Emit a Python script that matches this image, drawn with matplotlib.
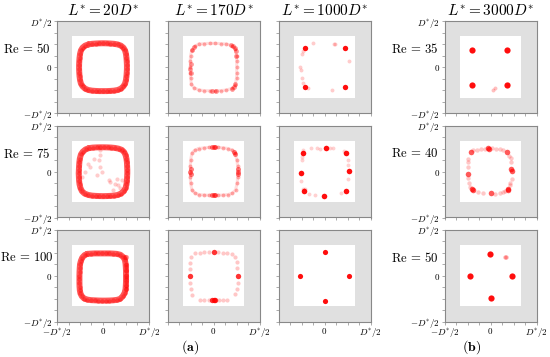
import matplotlib
matplotlib.use("Agg")
import matplotlib.pyplot as plt
from matplotlib.patches import Rectangle
from matplotlib.ticker import MultipleLocator, FixedLocator, FixedFormatter

plt.rcParams['mathtext.fontset'] = 'cm'
plt.rcParams['font.family'] = ['DejaVu Serif']

# ---------------- labels ----------------
col_titles = [r"$L^{*} = 20D^{*}$", r"$L^{*} = 170D^{*}$", r"$L^{*} = 1000D^{*}$", r"$L^{*} = 3000D^{*}$"]
row_labels_a = [r"$\mathrm{Re}\,=\,50$", r"$\mathrm{Re}\,=\,75$", r"$\mathrm{Re}\,=\,100$"]
row_labels_b = [r"$\mathrm{Re}\,=\,35$", r"$\mathrm{Re}\,=\,40$", r"$\mathrm{Re}\,=\,50$"]
tick_vals = [-0.5, 0.0, 0.5]
tick_text = [r"$-D^{*}/2$", r"$0$", r"$D^{*}/2$"]
inner_half = 0.335  # half size of the white inner square (in D*)

# ---------------- data (particle positions, units of D*) ----------------
# Row Re=50 (a), L*=20D*: dense ring
r50_l20_x = [-0.16, -0.12, -0.08, -0.04, 0.0, 0.04, 0.08, 0.12, 0.16,
             0.195, 0.222, 0.24,
             0.25, 0.255, 0.258, 0.26, 0.26, 0.258, 0.255, 0.25,
             0.24, 0.222, 0.195,
             0.16, 0.12, 0.08, 0.04, 0.0, -0.04, -0.08, -0.12, -0.16,
             -0.195, -0.222, -0.24,
             -0.25, -0.255, -0.258, -0.26, -0.26, -0.258, -0.255, -0.25,
             -0.24, -0.222, -0.195]
r50_l20_y = [0.245, 0.252, 0.255, 0.257, 0.258, 0.257, 0.255, 0.252, 0.245,
             0.232, 0.21, 0.18,
             0.14, 0.1, 0.06, 0.02, -0.02, -0.06, -0.1, -0.14,
             -0.18, -0.21, -0.235,
             -0.25, -0.257, -0.26, -0.262, -0.262, -0.262, -0.26, -0.257, -0.25,
             -0.235, -0.21, -0.18,
             -0.14, -0.1, -0.06, -0.02, 0.02, 0.06, 0.1, 0.14,
             0.18, 0.21, 0.232]

# Re=50 (a), L*=170D*: faint ring + denser corners
r50_l170_fx = [-0.16, -0.1, -0.04, 0.02, 0.08, 0.14,
               0.2, 0.235,
               0.25, 0.252, 0.252, 0.252, 0.25,
               0.235, 0.2,
               0.14, 0.08, 0.02, -0.04, -0.1, -0.16,
               -0.21, -0.24,
               -0.25, -0.252, -0.252, -0.252, -0.25,
               -0.235, -0.2]
r50_l170_fy = [0.248, 0.255, 0.257, 0.257, 0.255, 0.25,
               0.232, 0.2,
               0.12, 0.06, 0.0, -0.06, -0.12,
               -0.2, -0.232,
               -0.25, -0.256, -0.258, -0.258, -0.256, -0.25,
               -0.225, -0.19,
               -0.12, -0.06, 0.0, 0.06, 0.12,
               0.19, 0.23]
r50_l170_dx = [0.19, 0.215, 0.232, 0.242, 0.238, 0.222, 0.2, -0.215, -0.235, -0.25, -0.252, -0.25, -0.02, 0.03, 0.24]
r50_l170_dy = [0.24, 0.225, 0.205, 0.175, -0.19, -0.218, -0.236, 0.215, 0.185, 0.03, -0.02, -0.07, -0.258, -0.258, 0.12]

# Re=50 (a), L*=1000D*: four corner clusters
r50_l1000_dx = [-0.211, 0.225, -0.214, 0.222]
r50_l1000_dy = [0.21, 0.21, -0.214, -0.214]
r50_l1000_fx = [-0.128, 0.106, 0.262, -0.265, -0.26, -0.25, -0.23, -0.18, 0.085, -0.25, -0.235, 0.115]
r50_l1000_fy = [0.26, 0.253, 0.067, 0.0, -0.03, -0.12, -0.17, -0.23, -0.25, 0.14, 0.17, 0.25]

# Re=35 (b), L*=3000D*: four corner clusters
r35_l3000_dx = [-0.205, 0.18, -0.205, 0.178]
r35_l3000_dy = [0.187, 0.187, -0.198, -0.2]
r35_l3000_fx = [0.03, 0.05, 0.19]
r35_l3000_fy = [-0.245, -0.232, -0.185]

# Re=75 (a), L*=20D*: dense ring + scattered interior
r75_l20_x = [-0.15, -0.11, -0.07, -0.03, 0.01, 0.05, 0.09, 0.13, 0.17,
             0.205, 0.23, 0.245,
             0.255, 0.26, 0.262, 0.264, 0.264, 0.262, 0.26, 0.255,
             0.245, 0.225, 0.195,
             0.16, 0.12, 0.08, 0.04, 0.0, -0.04, -0.08, -0.12, -0.16,
             -0.2, -0.228, -0.245,
             -0.255, -0.26, -0.262, -0.264, -0.262, -0.26, -0.257, -0.252,
             -0.24, -0.22, -0.19]
r75_l20_y = [0.255, 0.26, 0.262, 0.263, 0.263, 0.262, 0.26, 0.256, 0.248,
             0.235, 0.21, 0.18,
             0.14, 0.1, 0.06, 0.02, -0.02, -0.06, -0.1, -0.14,
             -0.18, -0.215, -0.24,
             -0.255, -0.262, -0.265, -0.267, -0.268, -0.267, -0.265, -0.262, -0.255,
             -0.24, -0.215, -0.18,
             -0.14, -0.1, -0.06, -0.02, 0.02, 0.06, 0.1, 0.14,
             0.185, 0.215, 0.24]
r75_l20_fx = [-0.038, -0.031, -0.042, -0.031, -0.013, -0.067, -0.139, -0.193, -0.229, 0.06,
              0.078, 0.132, 0.168, 0.186, 0.15, 0.204, 0.114, -0.168, -0.103]
r75_l20_fy = [0.229, 0.175, 0.121, 0.049, -0.005, -0.042, 0.049, -0.005, -0.06, -0.096,
              -0.114, -0.139, -0.15, -0.175, -0.078, -0.096, -0.204, 0.085, 0.139]

# Re=75 (a), L*=170D*: faint ring + denser mid-sides
r75_l170_fx = [-0.16, -0.1, -0.05, 0.05, 0.1, 0.16,
               0.205, 0.235,
               0.255, 0.262, 0.262, 0.258,
               0.24, 0.205,
               0.16, 0.1, 0.05, -0.05, -0.1, -0.16,
               -0.205, -0.235,
               -0.25, -0.252, -0.252, -0.25,
               -0.235, -0.205]
r75_l170_fy = [0.25, 0.258, 0.262, 0.262, 0.258, 0.25,
               0.232, 0.2,
               0.12, 0.06, -0.06, -0.12,
               -0.2, -0.235,
               -0.25, -0.256, -0.258, -0.258, -0.256, -0.25,
               -0.232, -0.2,
               -0.12, -0.06, 0.06, 0.12,
               0.2, 0.232]
r75_l170_dx = [-0.02, 0.0, 0.02, -0.25, -0.252, -0.25, 0.266, 0.268, 0.265, -0.02, 0.0, 0.02, 0.225, 0.235]
r75_l170_dy = [0.263, 0.265, 0.264, 0.03, 0.0, -0.03, 0.025, 0.0, -0.025, -0.257, -0.258, -0.257, 0.215, 0.19]

# Re=75 (a), L*=1000D*: eight clusters
r75_l1000_dx = [-0.229, 0.013, 0.233, 0.269, -0.258, -0.222, -0.005, 0.233]
r75_l1000_dy = [0.204, 0.258, 0.2, 0.002, -0.013, -0.215, -0.269, -0.215]
r75_l1000_fx = [-0.238, -0.08, -0.05, 0.06, 0.09, 0.25, 0.255, 0.26, 0.18, -0.15, -0.1, -0.26, -0.25, -0.24, -0.17, -0.235, 0.21, -0.21]
r75_l1000_fy = [0.23, 0.255, 0.25, 0.26, 0.255, 0.12, 0.07, -0.08, -0.235, 0.255, -0.25, -0.1, 0.12, 0.16, -0.245, -0.185, 0.225, -0.195]

# Re=40 (b), L*=3000D*: clustered ring
r40_l3000_dx = [-0.209, -0.032, 0.176, 0.23, -0.245, -0.201, 0.004, 0.187, -0.02, 0.225, -0.19, 0.195]
r40_l3000_dy = [0.208, 0.255, 0.211, 0.005, -0.023, -0.193, -0.229, -0.186, 0.25, 0.03, -0.205, -0.2]
r40_l3000_fx = [-0.15, -0.1, -0.06, 0.02, 0.06, 0.1, 0.14, -0.245, -0.25, -0.24, -0.235, -0.245,
                0.22, 0.225, 0.23, 0.215, -0.14, -0.08, 0.05, 0.1, 0.14, -0.22, 0.2, 0.21, -0.19, 0.16]
r40_l3000_fy = [0.235, 0.245, 0.25, 0.255, 0.25, 0.245, 0.235, 0.1, 0.05, -0.07, -0.12, 0.14,
                0.15, 0.1, -0.08, -0.13, -0.225, -0.235, -0.24, -0.23, -0.22, -0.17, 0.17, -0.15, 0.23, -0.21]

# Re=100 (a), L*=20D*: dense ring
r100_l20_x = [-0.17, -0.13, -0.09, -0.05, -0.01, 0.03, 0.07, 0.11, 0.15,
              0.19, 0.22, 0.238,
              0.245, 0.248, 0.25, 0.25, 0.25, 0.25, 0.248, 0.245,
              0.235, 0.215, 0.185,
              0.15, 0.11, 0.07, 0.03, -0.01, -0.05, -0.09, -0.13, -0.17,
              -0.205, -0.23, -0.245,
              -0.252, -0.255, -0.256, -0.256, -0.256, -0.255, -0.253, -0.25,
              -0.24, -0.225, -0.2]
r100_l20_y = [0.235, 0.238, 0.24, 0.24, 0.24, 0.24, 0.24, 0.238, 0.235,
              0.225, 0.2, 0.17,
              0.13, 0.09, 0.05, 0.01, -0.03, -0.07, -0.11, -0.15,
              -0.19, -0.225, -0.255,
              -0.265, -0.27, -0.272, -0.273, -0.273, -0.272, -0.27, -0.268, -0.262,
              -0.25, -0.225, -0.195,
              -0.16, -0.12, -0.08, -0.04, 0.0, 0.04, 0.08, 0.12,
              0.16, 0.195, 0.222]
r100_l20_ex = [0.25, 0.253, 0.25, 0.248, 0.252, 0.25, 0.24, 0.245]
r100_l20_ey = [0.11, 0.06, 0.0, -0.05, -0.1, -0.15, 0.2, 0.2]

# Re=100 (a), L*=170D*: four mid-side clusters + faint ring
r100_l170_dx = [0.0, -0.259, 0.263, 0.0, 0.012, -0.012]
r100_l170_dy = [0.256, -0.009, -0.009, -0.27, -0.27, -0.27]
r100_l170_fx = [-0.2, -0.15, -0.1, -0.05, 0.05, 0.1, 0.15, 0.2, 0.235, 0.25, 0.26, 0.262, 0.255, 0.23,
                -0.15, -0.1, -0.05, 0.06, 0.1, 0.15, -0.25, -0.255, -0.26, -0.26, -0.25, -0.235]
r100_l170_fy = [0.245, 0.25, 0.255, 0.255, 0.255, 0.25, 0.245, 0.235, 0.2, 0.15, 0.08, -0.08, -0.15, -0.2,
                -0.265, -0.27, -0.27, -0.27, -0.268, -0.265, 0.2, 0.14, 0.07, -0.08, -0.15, -0.21]

# Re=100 (a), L*=1000D*: four mid-side clusters
r100_l1000_dx = [0.005, -0.265, 0.265, 0.005]
r100_l1000_dy = [0.26, -0.003, -0.01, -0.272]

# Re=50 (b), L*=3000D*: four mid-side clusters
r50_l3000_dx = [-0.004, -0.227, 0.237, 0.0]
r50_l3000_dy = [0.236, -0.01, -0.008, -0.24]
r50_l3000_fx = [0.158, 0.165]
r50_l3000_fy = [0.2, 0.198]

# ---------------- figure ----------------
W, H = 550, 357
fig = plt.figure(figsize=(W / 100, H / 100), dpi=100)

col_left_px = [57, 167.5, 278.5, 444.5]
row_top_px = [21, 125.5, 229.5]
size_px = 92

RED = '#ff0000'
GRAY_BG = '#e0e0e0'
SPINE = '#888888'


def make_ax(r, c):
    l = col_left_px[c] / W
    b = 1 - (row_top_px[r] + size_px) / H
    ax = fig.add_axes([l, b, size_px / W, size_px / H])
    ax.set_xlim(-0.5, 0.5)
    ax.set_ylim(-0.5, 0.5)
    ax.set_facecolor(GRAY_BG)
    ax.add_patch(Rectangle((-inner_half, -inner_half), 2 * inner_half, 2 * inner_half,
                           facecolor='white', edgecolor='none', zorder=0.5))
    for s in ax.spines.values():
        s.set_color(SPINE)
        s.set_linewidth(0.8)
    ax.xaxis.set_major_locator(FixedLocator(tick_vals))
    ax.yaxis.set_major_locator(FixedLocator(tick_vals))
    ax.xaxis.set_minor_locator(MultipleLocator(0.125))
    ax.yaxis.set_minor_locator(MultipleLocator(0.125))
    ax.tick_params(which='both', direction='out', length=2, width=0.5, color=SPINE,
                   labelsize=6.5, pad=1.2, top=False, right=False)
    show_y = c in (0, 3)
    show_x = r == 2
    if show_y:
        ax.yaxis.set_major_formatter(FixedFormatter(tick_text))
    else:
        ax.set_yticklabels([])
    if show_x:
        if c in (0, 3):
            ax.xaxis.set_major_formatter(FixedFormatter(tick_text))
        else:
            ax.xaxis.set_major_formatter(FixedFormatter(["", tick_text[1], tick_text[2]]))
    else:
        ax.set_xticklabels([])
    return ax


def ring(ax, x, y, lw=4.3, a=0.65, s=10, pa=0.4):
    ax.plot(list(x) + [x[0]], list(y) + [y[0]], color=RED, lw=lw, alpha=a,
            solid_joinstyle='round', solid_capstyle='round', zorder=2)
    ax.scatter(x, y, s=s, c=RED, alpha=pa, linewidths=0, zorder=3)


def faint_ring(ax, x, y, lw=2.2, a=0.13, s=8, pa=0.3):
    ax.plot(list(x) + [x[0]], list(y) + [y[0]], color=RED, lw=lw, alpha=a,
            solid_joinstyle='round', zorder=2)
    ax.scatter(x, y, s=s, c=RED, alpha=pa, linewidths=0, zorder=3)


def faint(ax, x, y, s=9, a=0.2):
    ax.scatter(x, y, s=s, c=RED, alpha=a, linewidths=0, zorder=2)


def dense(ax, x, y, s=14, a=0.45):
    ax.scatter(x, y, s=s, c=RED, alpha=a, linewidths=0, zorder=3)


def dots(ax, x, y, s=16, a=0.95):
    ax.scatter(x, y, s=s, c=RED, alpha=a, linewidths=0, zorder=4)


# Row 0
ax = make_ax(0, 0); ring(ax, r50_l20_x, r50_l20_y)
ax.set_title(col_titles[0], fontsize=11, pad=4)
ax = make_ax(0, 1); faint_ring(ax, r50_l170_fx, r50_l170_fy); dense(ax, r50_l170_dx, r50_l170_dy, s=12, a=0.4)
ax.set_title(col_titles[1], fontsize=11, pad=4)
ax = make_ax(0, 2); faint(ax, r50_l1000_fx, r50_l1000_fy, s=8, a=0.2); dots(ax, r50_l1000_dx, r50_l1000_dy, s=15)
ax.set_title(col_titles[2], fontsize=11, pad=4)
ax = make_ax(0, 3); faint(ax, r35_l3000_fx, r35_l3000_fy, s=8, a=0.25); dots(ax, r35_l3000_dx, r35_l3000_dy, s=20)
ax.set_title(col_titles[3], fontsize=11, pad=4)

# Row 1
ax = make_ax(1, 0); ring(ax, r75_l20_x, r75_l20_y); faint(ax, r75_l20_fx, r75_l20_fy, s=9, a=0.2)
ax = make_ax(1, 1); faint_ring(ax, r75_l170_fx, r75_l170_fy); dense(ax, r75_l170_dx, r75_l170_dy, s=13, a=0.5)
ax = make_ax(1, 2); faint(ax, r75_l1000_fx, r75_l1000_fy, s=8, a=0.18); dots(ax, r75_l1000_dx, r75_l1000_dy, s=16)
ax = make_ax(1, 3); faint(ax, r40_l3000_fx, r40_l3000_fy, s=10, a=0.22); dense(ax, r40_l3000_dx, r40_l3000_dy, s=16, a=0.65)

# Row 2
ax = make_ax(2, 0); ring(ax, r100_l20_x, r100_l20_y); dense(ax, r100_l20_ex, r100_l20_ey, s=14, a=0.35)
ax = make_ax(2, 1); faint(ax, r100_l170_fx, r100_l170_fy, s=9, a=0.22); dots(ax, r100_l170_dx, r100_l170_dy, s=15, a=0.8)
ax = make_ax(2, 2); dots(ax, r100_l1000_dx, r100_l1000_dy, s=14)
ax = make_ax(2, 3); faint(ax, r50_l3000_fx, r50_l3000_fy, s=10, a=0.3); dots(ax, r50_l3000_dx, r50_l3000_dy, s=20)

# row labels
for r in range(3):
    yc = 1 - (row_top_px[r] + 28) / H
    fig.text(27 / W, yc, row_labels_a[r], ha='center', va='center', fontsize=9.2)
    fig.text(415 / W, yc, row_labels_b[r], ha='center', va='center', fontsize=9.2)

fig.text(190 / W, 1 - 347 / H, r"$\mathbf{(a)}$", ha='center', va='center', fontsize=10)
fig.text(472 / W, 1 - 347 / H, r"$\mathbf{(b)}$", ha='center', va='center', fontsize=10)

fig.savefig("out.png", dpi=100)
